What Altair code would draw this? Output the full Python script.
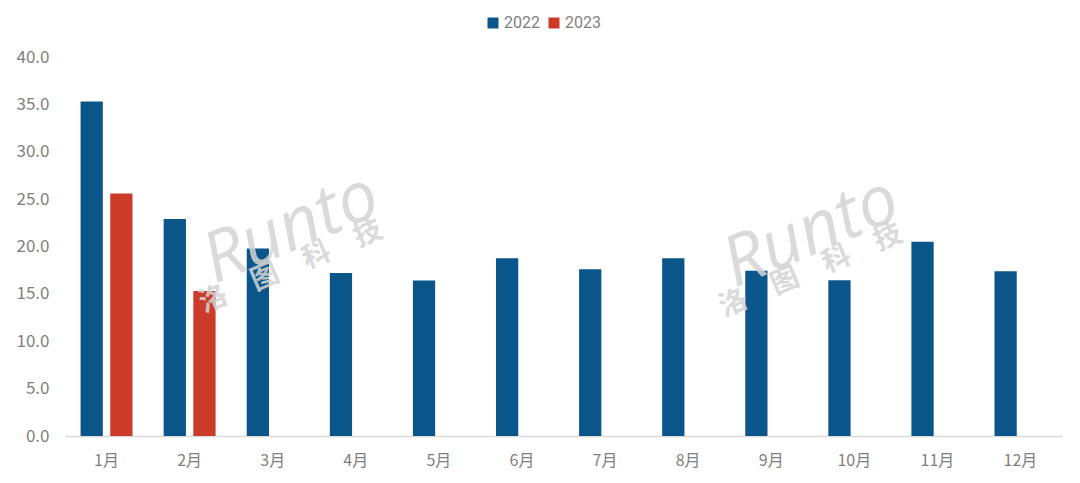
import altair as alt
import pandas as pd

months = ["1月", "2月", "3月", "4月", "5月", "6月", "7月", "8月", "9月", "10月", "11月", "12月"]
values_2022 = [35.3, 22.9, 19.8, 17.2, 16.4, 18.75, 17.6, 18.75, 17.45, 16.45, 20.5, 17.4]
values_2023 = [25.6, 15.3]
years = ["2022", "2023"]
colors = ["#0A5589", "#CC3A2A"]

rows = []
for m, v in zip(months, values_2022):
    rows.append({"month": m, "year": "2022", "value": v})
for m, v in zip(months, values_2023):
    rows.append({"month": m, "year": "2023", "value": v})
df = pd.DataFrame(rows)

font = "Noto Sans CJK SC"
gray = "#7f7f7f"

bars = alt.Chart(df).mark_bar().encode(
    x=alt.X("month:N", sort=months, title=None,
            scale=alt.Scale(paddingInner=0.375, paddingOuter=0.1875),
            axis=alt.Axis(labelAngle=0, ticks=False, domainColor="#d9d9d9", domainWidth=1.5,
                          labelFont=font, labelFontSize=16, labelColor=gray, labelPadding=16)),
    xOffset=alt.XOffset("year:N", sort=years, scale=alt.Scale(paddingInner=0.25, paddingOuter=0)),
    y=alt.Y("value:Q", title=None,
            scale=alt.Scale(domain=[0, 40]),
            axis=alt.Axis(values=[0, 5, 10, 15, 20, 25, 30, 35, 40], format=".1f", grid=False,
                          domain=False, ticks=False, labelFont=font, labelFontSize=17,
                          labelColor=gray, labelPadding=16)),
    color=alt.Color("year:N", sort=years,
                    scale=alt.Scale(domain=years, range=colors),
                    legend=alt.Legend(title=None, orient="none", direction="horizontal",
                                      legendX=420, legendY=-42, symbolType="square",
                                      symbolSize=121, symbolStrokeWidth=0,
                                      labelFont="Roboto", labelFontSize=16, labelColor=gray,
                                      columnPadding=6, labelOffset=3)),
)

wm_df = pd.DataFrame({"t": ["Runto", "Runto"], "px": [226, 746], "py": [172, 176]})
wm_cn = pd.DataFrame({"t": ["洛　图　科　技", "洛　图　科　技"], "px": [226, 746], "py": [210, 214]})

wm1 = alt.Chart(wm_df).mark_text(
    font="Open Sans", fontStyle="italic", fontSize=70, angle=337, color="#d4d4d4", opacity=0.85
).encode(x=alt.X("px:Q", scale=None), y=alt.Y("py:Q", scale=None), text="t:N")

wm2 = alt.Chart(wm_cn).mark_text(
    font=font, fontWeight="bold", fontSize=28, angle=337, color="#d4d4d4", opacity=0.85
).encode(x=alt.X("px:Q", scale=None), y=alt.Y("py:Q", scale=None), text="t:N")

chart = alt.layer(bars, wm1, wm2).properties(
    width=997, height=379,
    background="white",
    autosize=alt.AutoSizeParams(type="none"),
    padding={"left": 57, "top": 49, "right": 10, "bottom": 40},
).configure_view(stroke="transparent", strokeWidth=0)

chart.save("out.html", embed_options={"renderer": "svg", "actions": False})
